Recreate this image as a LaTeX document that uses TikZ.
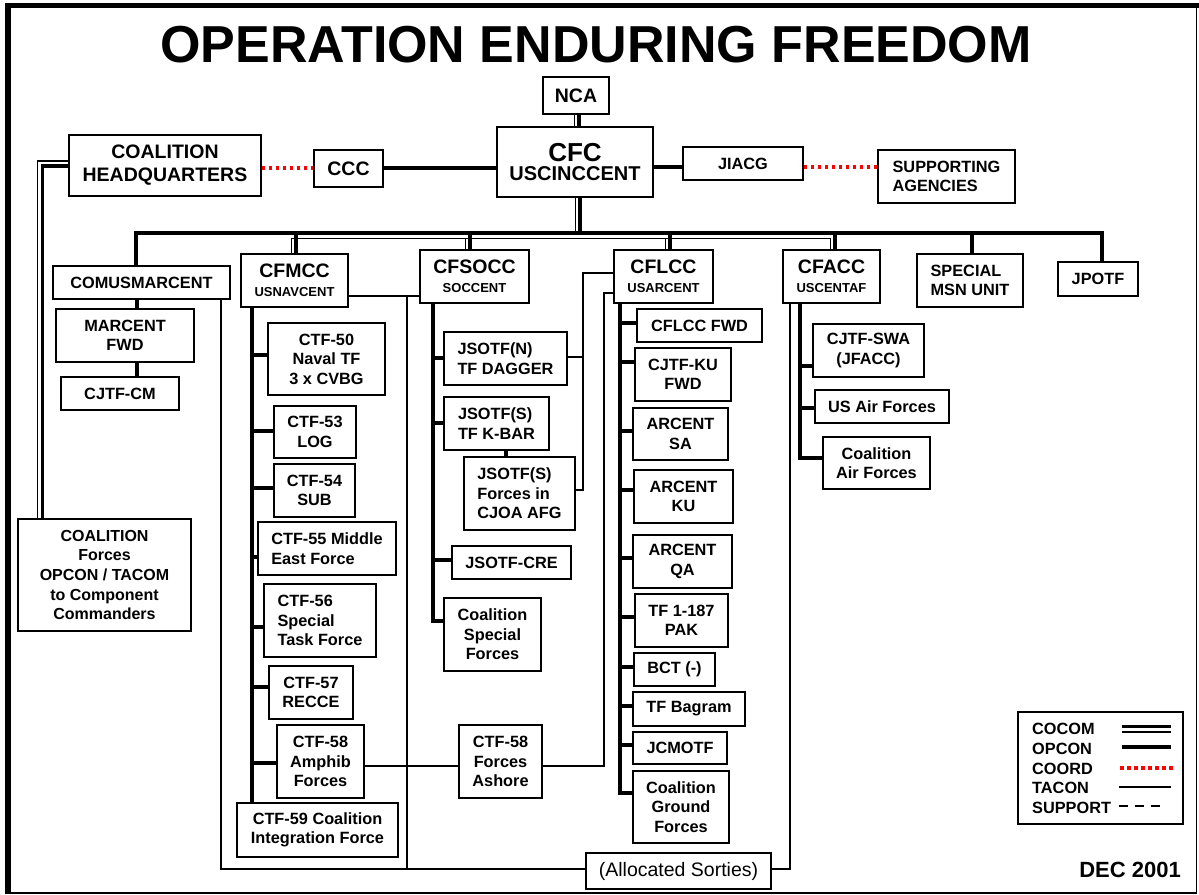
\documentclass[tikz,border=0pt]{standalone}
\usepackage{fontspec}
\setmainfont{Liberation Sans}
\newcommand\fsz[2]{\fontsize{#1pt}{#2pt}\selectfont}
\newcommand\bx[7][]{\node[box,minimum width={#5-#3},minimum height={#6-#4},#1] (#2) at ({(#3+#5)/2},{(#4+#6)/2}) {#7};}
\tikzset{
  box/.style={draw,line width=1.5pt,inner sep=0pt,align=center,fill=white,font=\bfseries\fsz{16.3}{19.5}},
  big/.style={font=\bfseries\fsz{19.5}{23}},
  opcon/.style={line width=3.8pt},
  cothin/.style={line width=1.5pt},
  tacon/.style={line width=1.2pt},
  coordl/.style={red,line width=3.5pt,dash pattern=on 3.5pt off 3.5pt},
  supportl/.style={line width=1.5pt,dash pattern=on 9pt off 7pt},
  leg/.style={anchor=west,inner sep=0pt,font=\bfseries\fsz{16.3}{19.5}}
}
\begin{document}
\begin{tikzpicture}[x=1pt,y=-1pt]
\useasboundingbox (0,0) rectangle (1199,894);
\fill[white] (0,0) rectangle (1199,894);
% frame
\draw[line width=1.5pt] (1196.5,5) -- (1196.5,893) -- (8,893);
\draw[line width=5pt] (5,5.5) -- (1199,5.5);
\draw[line width=6pt] (8,3) -- (8,894);
% title
\node[font=\bfseries\fsz{52}{60}] (title) at (596,45) {OPERATION ENDURING FREEDOM};

\coordinate (ncx) at (579,0);
\coordinate (ncx2) at (574.5,0);
\coordinate (cvx) at (580,233);
\coordinate (cvx2) at (575.5,233);

% boxes
\bx[big]{nca}{543}{77}{609}{114}{NCA}
\bx{cfc}{497}{127}{653}{197}{{\fsz{26}{26}CFC}\\\fsz{20}{24}USCINCCENT}
\bx[big]{hq}{69}{135}{261}{196}{COALITION\\HEADQUARTERS}
\bx[big]{ccc}{314}{150}{383}{187}{CCC}
\bx{jiacg}{683}{147}{803}{180}{JIACG}
\bx[align=left]{supp}{878}{150}{1015}{203}{SUPPORTING\\AGENCIES}

\bx{comus}{53}{266}{230}{299}{COMUSMARCENT}
\bx{marfwd}{56}{309}{194}{362}{MARCENT\\FWD}
\bx{cjtfcm}{61}{377}{179}{410}{CJTF-CM}
\bx[font=\bfseries\fsz{16}{19.6}]{coalf}{18}{519}{191}{631}{COALITION\\Forces\\OPCON / TACOM\\to Component\\Commanders}

\bx{cfmcc}{241}{254}{348}{307}{{\fsz{19.5}{20}CFMCC}\\\fsz{13}{18}USNAVCENT}
\bx{ctf50}{268}{323}{385}{395}{CTF-50\\Naval TF\\3 x CVBG}
\bx{ctf53}{274}{406}{356}{458}{CTF-53\\LOG}
\bx{ctf54}{274}{464}{355}{517}{CTF-54\\SUB}
\bx[align=left]{ctf55}{258}{522}{396}{575}{CTF-55 Middle\\East Force}
\bx[align=left]{ctf56}{264}{584}{376}{657}{CTF-56\\Special\\Task Force}
\bx{ctf57}{269}{666}{353}{719}{CTF-57\\RECCE}
\bx{ctf58}{277}{725}{364}{798}{CTF-58\\Amphib\\Forces}
\bx{ctf59}{237}{803}{398}{857}{CTF-59 Coalition\\Integration Force}

\bx{cfsocc}{420}{250}{529}{303}{{\fsz{19.5}{20}CFSOCC}\\\fsz{13}{18}SOCCENT}
\bx[align=left]{dagger}{444}{332}{567}{385}{JSOTF(N)\\TF DAGGER}
\bx[align=left]{kbar}{444}{397}{549}{450}{JSOTF(S)\\TF K-BAR}
\bx[align=left]{forcesin}{464}{457}{575}{530}{JSOTF(S)\\Forces in\\CJOA AFG}
\bx{cre}{452}{546}{571}{579}{JSOTF-CRE}
\bx{csf}{444}{598}{541}{671}{Coalition\\Special\\Forces}
\bx{ashore}{459}{725}{542}{798}{CTF-58\\Forces\\Ashore}

\bx{cflcc}{614}{250}{713}{303}{{\fsz{19.5}{20}CFLCC}\\\fsz{13}{18}USARCENT}
\bx{cflccfwd}{637}{309}{762}{342}{CFLCC FWD}
\bx{kufwd}{635}{348}{731}{401}{CJTF-KU\\FWD}
\bx{arsa}{633}{408}{728}{460}{ARCENT\\SA}
\bx{arku}{634}{470}{733}{523}{ARCENT\\KU}
\bx{arqa}{633}{535}{732}{588}{ARCENT\\QA}
\bx{tf187}{635}{594}{728}{647}{TF 1-187\\PAK}
\bx{bct}{634}{653}{715}{686}{BCT (-)}
\bx{bagram}{633}{692}{745}{726}{TF Bagram}
\bx{jcmotf}{633}{732}{727}{764}{JCMOTF}
\bx{cgf}{633}{771}{729}{843}{Coalition\\Ground\\Forces}

\bx{cfacc}{783}{250}{880}{303}{{\fsz{19.5}{20}CFACC}\\\fsz{13}{18}USCENTAF}
\bx{swa}{813}{324}{924}{377}{CJTF-SWA\\(JFACC)}
\bx{usaf}{815}{390}{949}{423}{US Air Forces}
\bx{caf}{823}{437}{930}{489}{Coalition\\Air Forces}
\bx[align=left]{smu}{917}{254}{1023}{307}{SPECIAL\\MSN UNIT}
\bx{jpotf}{1058}{262}{1138}{296}{JPOTF}

\bx[font=\fsz{19.5}{22}]{alloc}{586}{853}{771}{889}{(Allocated Sorties)}

% ---- COCOM double lines ----
\draw[opcon] (nca.south -| ncx) -- (cfc.north -| ncx);
\draw[cothin] (nca.south -| ncx2) -- (cfc.north -| ncx2);
\draw[opcon] (cfc.south -| cvx) -- (cvx);
\draw[cothin] (cfc.south -| cvx2) -- (cvx2);
\draw[opcon] (comus.north -| 136,0) -- (136,233) -- (1102,233) -- (jpotf.north -| 1102,0);
\draw[opcon] (296,233) -- (cfmcc.north -| 296,0);
\draw[opcon] (470,233) -- (cfsocc.north -| 470,0);
\draw[opcon] (670,233) -- (cflcc.north -| 670,0);
\draw[opcon] (835,233) -- (cfacc.north -| 835,0);
\draw[opcon] (972,233) -- (smu.north -| 972,0);
\draw[cothin] (cfmcc.north -| 291.5,0) -- (291.5,238.5) -- (830.5,238.5) -- (cfacc.north -| 830.5,0);
\draw[cothin] (465.5,238.5) -- (cfsocc.north -| 465.5,0);
\draw[cothin] (665.5,238.5) -- (cflcc.north -| 665.5,0);
\draw[opcon] (hq.west |- 0,166) -- (42.5,166) -- (coalf.north -| 42.5,0);
\draw[cothin] (hq.west |- 0,161) -- (37.5,161) -- (coalf.north -| 37.5,0);

% ---- OPCON ----
\draw[opcon] (ccc.east |- 0,168) -- (cfc.west |- 0,168);
\draw[opcon] (cfc.east |- 0,167) -- (jiacg.west |- 0,167);
\draw[opcon] (comus.south -| 137,0) -- (marfwd.north -| 137,0);
\draw[opcon] (marfwd.south -| 137,0) -- (cjtfcm.north -| 137,0);
\draw[opcon] (cfmcc.south -| 252,0) -- (ctf59.north -| 252,0);
\foreach \n/\y in {ctf50/355,ctf53/431,ctf54/488,ctf55/557,ctf56/627,ctf57/687,ctf58/763}
  \draw[opcon] (250.1,\y) -- (\n.west |- 0,\y);
\draw[opcon] (cfsocc.south -| 433,0) -- (433,621) -- (csf.west |- 0,621);
\foreach \n/\y in {dagger/358,kbar/423,cre/560}
  \draw[opcon] (431.1,\y) -- (\n.west |- 0,\y);
\draw[opcon] (kbar.south -| 506,0) -- (forcesin.north -| 506,0);
\draw[opcon] (cflcc.south -| 620,0) -- (620,793) -- (cgf.west |- 0,793);
\foreach \n/\y in {cflccfwd/323,kufwd/362,arsa/431,arku/490,arqa/558,tf187/617,bct/667,bagram/706,jcmotf/745}
  \draw[opcon] (618.1,\y) -- (\n.west |- 0,\y);
\draw[opcon] (cfacc.south -| 800,0) -- (800,458) -- (caf.west |- 0,458);
\foreach \n/\y in {swa/366,usaf/408}
  \draw[opcon] (798.1,\y) -- (\n.west |- 0,\y);

% ---- TACON ----
\coordinate (tA) at (407,296);
\coordinate (tB) at (407,869);
\draw[tacon] (comus.south -| 221,0) -- (221,869) -- (alloc.west |- 0,869);
\draw[tacon] (alloc.east |- 0,869) -- (790,869) -- (cfacc.south -| 790,0);
\draw[tacon] (cfmcc.east |- 0,296) -- (cfsocc.west |- 0,296);
\draw[tacon] (tA) -- (tB);
\draw[tacon] (ctf58.east |- 0,766) -- (ashore.west |- 0,766);
\draw[tacon] (ashore.east |- 0,766) -- (604,766) -- (604,293) -- (cflcc.west |- 0,293);
\draw[tacon] (cflcc.west |- 0,273) -- (583,273) -- (583,490) -- (forcesin.east |- 0,490);
\draw[tacon] (dagger.east |- 0,357) -- (583,357);

% ---- COORD ----
\draw[coordl] (hq.east |- 0,168) -- (ccc.west |- 0,168);
\draw[coordl] (jiacg.east |- 0,167) -- (supp.west |- 0,167);

% ---- legend ----
\node[draw,line width=1.5pt,minimum width=165,minimum height=112,inner sep=0pt] (legend) at (1100.5,768) {};
\node[leg] (lcocom) at (1032,729) {COCOM};
\node[leg] (lopcon) at (1032,749) {OPCON};
\node[leg] (lcoord) at (1032,768.5) {COORD};
\node[leg] (ltacon) at (1032,788) {TACON};
\node[leg] (lsupp) at (1032,808) {SUPPORT};
\draw[opcon] (1122,726.5) -- (1171,726.5);
\draw[cothin] (1122,732) -- (1171,732);
\draw[opcon] (1122,747) -- (1171,747);
\draw[coordl] (1120,768) -- (1176,768);
\draw[tacon] (1119,787) -- (1171,787);
\draw[supportl] (1119,806) -- (1167,806);

\node[anchor=east,font=\bfseries\fsz{22}{24},inner sep=0pt] (dec) at (1181,870) {DEC 2001};
\end{tikzpicture}
\end{document}
